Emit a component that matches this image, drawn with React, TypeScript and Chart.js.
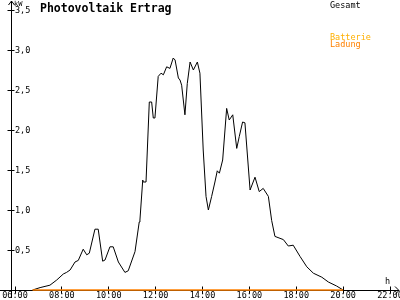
import React, { useEffect, useRef } from "react";
import { Chart, registerables } from "chart.js";

Chart.register(...registerables);

// Time of day in hours (decimal)
const gesamtTimes = [
  6.75, 7.07, 7.49, 7.78, 8.06, 8.2, 8.35, 8.56, 8.7, 8.91,
  9.06, 9.17, 9.41, 9.55, 9.74, 9.84, 10.05, 10.19, 10.41, 10.69,
  10.83, 11.12, 11.3, 11.33, 11.45, 11.47, 11.59, 11.73, 11.83, 11.9,
  11.97, 12.11, 12.23, 12.33, 12.47, 12.61, 12.75, 12.83, 12.97, 13.04,
  13.11, 13.25, 13.35, 13.47, 13.61, 13.78, 13.89, 14.03, 14.15, 14.25,
  14.39, 14.53, 14.63, 14.72, 14.86, 15.03, 15.14, 15.29, 15.46, 15.57,
  15.71, 15.81, 16.03, 16.24, 16.42, 16.59, 16.81, 16.95, 17.09, 17.45,
  17.66, 17.87, 18.16, 18.45, 18.73, 19.09, 19.37, 19.72, 20.0,
];
// Power in kW
const gesamtValues = [
  0, 0.03, 0.06, 0.125, 0.2, 0.22, 0.25, 0.35, 0.37, 0.51,
  0.44, 0.46, 0.76, 0.76, 0.36, 0.375, 0.54, 0.54, 0.35, 0.22,
  0.24, 0.48, 0.85, 0.875, 1.375, 1.35, 1.35, 2.35, 2.35, 2.15,
  2.15, 2.67, 2.71, 2.69, 2.79, 2.77, 2.9, 2.875, 2.65, 2.625,
  2.56, 2.19, 2.58, 2.85, 2.75, 2.85, 2.71, 1.75, 1.17, 1.0,
  1.17, 1.35, 1.49, 1.46, 1.625, 2.27, 2.125, 2.19, 1.77, 1.92,
  2.1, 2.09, 1.25, 1.41, 1.23, 1.27, 1.17, 0.87, 0.67, 0.63,
  0.55, 0.56, 0.42, 0.29, 0.21, 0.16, 0.1, 0.05, 0.0,
];
const ladungTimes = [6.75, 20.0];
const ladungValues = [0, 0];

const xTicks = [6, 8, 10, 12, 14, 16, 18, 20, 22];
const yTicks = [0.5, 1.0, 1.5, 2.0, 2.5, 3.0, 3.5];
const xMin = 6;
const xMax = 22;
const yMin = 0;
const yMax = 3.5;

const titleText = "Photovoltaik Ertrag";
const unitText = "kW";
const xUnitText = "h";
const legendLabels = ["Gesamt", "Batterie", "Ladung"];

const MONO = '"DejaVu Sans Mono", "Liberation Mono", monospace';

const fmtHour = (h: number) => `${String(h).padStart(2, "0")}:00`;
const fmtKw = (v: number) => v.toFixed(1).replace(".", ",");

const decorPlugin = {
  id: "pvDecor",
  beforeDatasetsDraw(chart: any) {
    const { ctx, scales } = chart;
    const xs = scales.x;
    const ys = scales.y;
    const axisX = Math.floor(xs.left) - 4 + 0.5;
    const axisY = Math.floor(ys.getPixelForValue(0)) + 0.5;
    ctx.save();
    ctx.strokeStyle = "#000";
    ctx.lineWidth = 1;
    // x axis
    ctx.beginPath();
    ctx.moveTo(0, axisY);
    ctx.lineTo(399, axisY);
    ctx.moveTo(395, axisY - 4);
    ctx.lineTo(399, axisY);
    ctx.lineTo(395, axisY + 4);
    ctx.stroke();
    // y axis
    ctx.beginPath();
    ctx.moveTo(axisX, 298);
    ctx.lineTo(axisX, 1);
    ctx.moveTo(axisX - 3, 5);
    ctx.lineTo(axisX, 1);
    ctx.lineTo(axisX + 3, 5);
    ctx.stroke();
    // x ticks
    ctx.beginPath();
    xTicks.forEach((t) => {
      const px = Math.floor(xs.getPixelForValue(t)) + 0.5;
      ctx.moveTo(px, axisY - 4);
      ctx.lineTo(px, axisY + 3);
    });
    // y ticks
    yTicks.forEach((v) => {
      const py = Math.floor(ys.getPixelForValue(v)) + 0.5;
      ctx.moveTo(axisX - 4, py);
      ctx.lineTo(axisX + 3, py);
    });
    ctx.stroke();
    ctx.restore();
  },
  afterDraw(chart: any) {
    const { ctx, scales } = chart;
    const xs = scales.x;
    const ys = scales.y;
    const axisY = ys.getPixelForValue(0);
    ctx.save();
    ctx.fillStyle = "#000";
    // x labels
    ctx.font = `8.5px ${MONO}`;
    ctx.textAlign = "center";
    ctx.textBaseline = "middle";
    xTicks.forEach((t) => {
      ctx.fillText(fmtHour(t), xs.getPixelForValue(t), axisY + 6);
    });
    // y labels
    ctx.textAlign = "left";
    yTicks.forEach((v) => {
      ctx.fillText(fmtKw(v), xs.left, ys.getPixelForValue(v) + 0.5);
    });
    ctx.font = `7px ${MONO}`;
    ctx.fillText(unitText, xs.left - 1, 4);
    ctx.font = `8.5px ${MONO}`;
    ctx.fillText(xUnitText, 385, axisY - 8);
    // title
    ctx.font = `bold 11.5px ${MONO}`;
    ctx.textBaseline = "alphabetic";
    ctx.fillText(titleText, 40, 11.5);
    // legend
    ctx.font = `8.5px ${MONO}`;
    ctx.fillStyle = "#000";
    ctx.fillText(legendLabels[0], 330, 7.5);
    ctx.fillStyle = "#FFB000";
    ctx.fillText(legendLabels[1], 330, 39.5);
    ctx.fillStyle = "#FF8000";
    ctx.fillText(legendLabels[2], 330, 46.5);
    ctx.restore();
  },
};

export default function App() {
  const canvasRef = useRef<HTMLCanvasElement | null>(null);

  useEffect(() => {
    document.body.style.margin = "0";
    const canvas = canvasRef.current;
    if (!canvas) return;
    const chart = new Chart(canvas, {
      type: "line",
      data: {
        datasets: [
          {
            label: legendLabels[2],
            data: ladungTimes.map((t, i) => ({ x: t, y: ladungValues[i] })),
            borderColor: "#FF8000",
            borderWidth: 1.5,
            pointRadius: 0,
            tension: 0,
            fill: false,
            clip: false,
            order: 0,
          },
          {
            label: legendLabels[0],
            data: gesamtTimes.map((t, i) => ({ x: t, y: gesamtValues[i] })),
            borderColor: "#000000",
            borderWidth: 1,
            pointRadius: 0,
            tension: 0,
            fill: false,
            clip: false,
            order: 1,
          },
        ],
      },
      options: {
        animation: false,
        responsive: false,
        maintainAspectRatio: false,
        devicePixelRatio: 1,
        layout: { padding: { left: 15, right: 10, top: 10, bottom: 10 } },
        plugins: {
          legend: { display: false },
          title: { display: false },
          tooltip: { enabled: false },
        },
        scales: {
          x: { type: "linear", min: xMin, max: xMax, display: false },
          y: { type: "linear", min: yMin, max: yMax, display: false },
        },
      },
      plugins: [decorPlugin],
    });
    return () => chart.destroy();
  }, []);

  return (
    <div style={{ position: "fixed", left: 0, top: 0, width: 400, height: 300, background: "#fff" }}>
      <canvas ref={canvasRef} width={400} height={300} style={{ display: "block" }} />
    </div>
  );
}
